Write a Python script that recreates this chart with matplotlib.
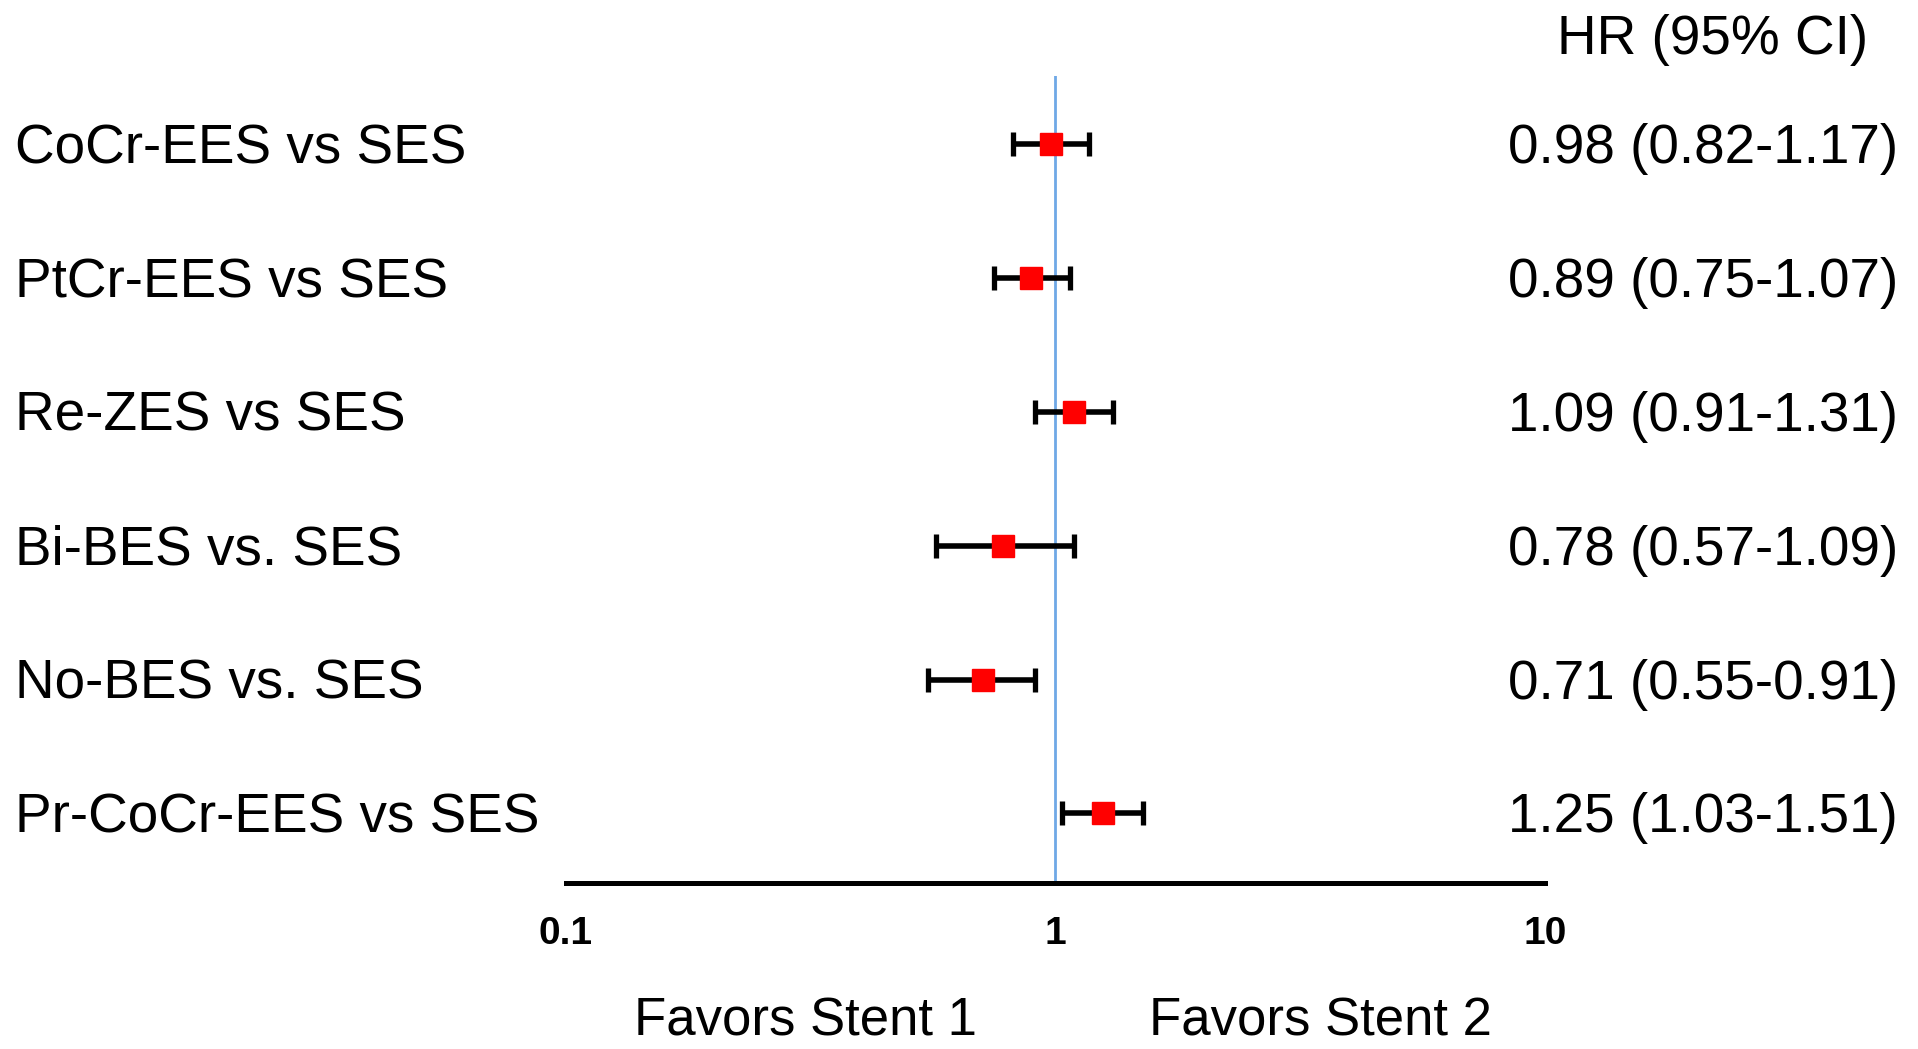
import matplotlib
matplotlib.use("Agg")
import matplotlib.pyplot as plt
from matplotlib.transforms import blended_transform_factory, offset_copy

plt.rcParams["font.family"] = ["Liberation Sans", "DejaVu Sans"]

# Stent comparisons: hazard ratios with 95% confidence intervals
comparisons = [
    "CoCr-EES vs SES",
    "PtCr-EES vs SES",
    "Re-ZES vs SES",
    "Bi-BES vs. SES",
    "No-BES vs. SES",
    "Pr-CoCr-EES vs SES",
]
hazard_ratio = [0.98, 0.89, 1.09, 0.78, 0.71, 1.25]
ci_lower = [0.82, 0.75, 0.91, 0.57, 0.55, 1.03]
ci_upper = [1.17, 1.07, 1.31, 1.09, 0.91, 1.51]
x_ticks = [0.1, 1, 10]
x_tick_labels = ["0.1", "1", "10"]

fig = plt.figure(figsize=(19.18, 10.49), dpi=100)
ax = fig.add_axes([0.2951, 0.1582, 0.8055 - 0.2951, 0.9276 - 0.1582])

rows = list(range(len(comparisons)))
err_lo = [h - l for h, l in zip(hazard_ratio, ci_lower)]
err_hi = [u - h for h, u in zip(hazard_ratio, ci_upper)]

# Reference line at HR = 1
ax.axvline(1, color="#6fa8e6", lw=2.0, zorder=1)

ax.errorbar(hazard_ratio, rows, xerr=[err_lo, err_hi], fmt="none",
            ecolor="black", elinewidth=4, capsize=8.5, capthick=3.8, zorder=2)
ax.plot(hazard_ratio, rows, linestyle="none", marker="s", markersize=16.5,
        color="#ff0000", markeredgecolor="#ff0000", zorder=3)

ax.set_xscale("log")
ax.set_xlim(0.1, 10)
ax.set_ylim(5.52, -0.51)

for side in ("top", "left", "right"):
    ax.spines[side].set_visible(False)
ax.spines["bottom"].set_linewidth(3.6)
ax.set_yticks([])

ax.set_xticks(x_ticks)
ax.set_xticklabels(x_tick_labels, fontsize=28, fontweight="bold")
ax.set_xticks([0.1, 10], minor=True)
ax.tick_params(axis="x", which="major", length=0, pad=24)
ax.tick_params(axis="x", which="minor", length=12, width=3.6, direction="inout")
ax.xaxis.set_minor_formatter(plt.NullFormatter())

# Row labels on the left and HR (95% CI) text on the right
trans = offset_copy(blended_transform_factory(fig.transFigure, ax.transData),
                    fig=fig, y=-5, units="dots")
for r, name, h, lo, hi in zip(rows, comparisons, hazard_ratio, ci_lower, ci_upper):
    ax.text(0.0078, r, name, transform=trans, ha="left", va="center",
            fontsize=39.5)
    ax.text(0.9896, r, f"{h:.2f} ({lo:.2f}-{hi:.2f})", transform=trans,
            ha="right", va="center", fontsize=39.5)

fig.text(0.9739, 1 - 40 / 1049, "HR (95% CI)", ha="right", va="center",
         fontsize=39.5)

fig.text(805 / 1918, 1 - 1021 / 1049, "Favors Stent 1", ha="center",
         va="center", fontsize=38)
fig.text(1320 / 1918, 1 - 1021 / 1049, "Favors Stent 2", ha="center",
         va="center", fontsize=38)

fig.savefig("out.png", dpi=100, facecolor="white")
